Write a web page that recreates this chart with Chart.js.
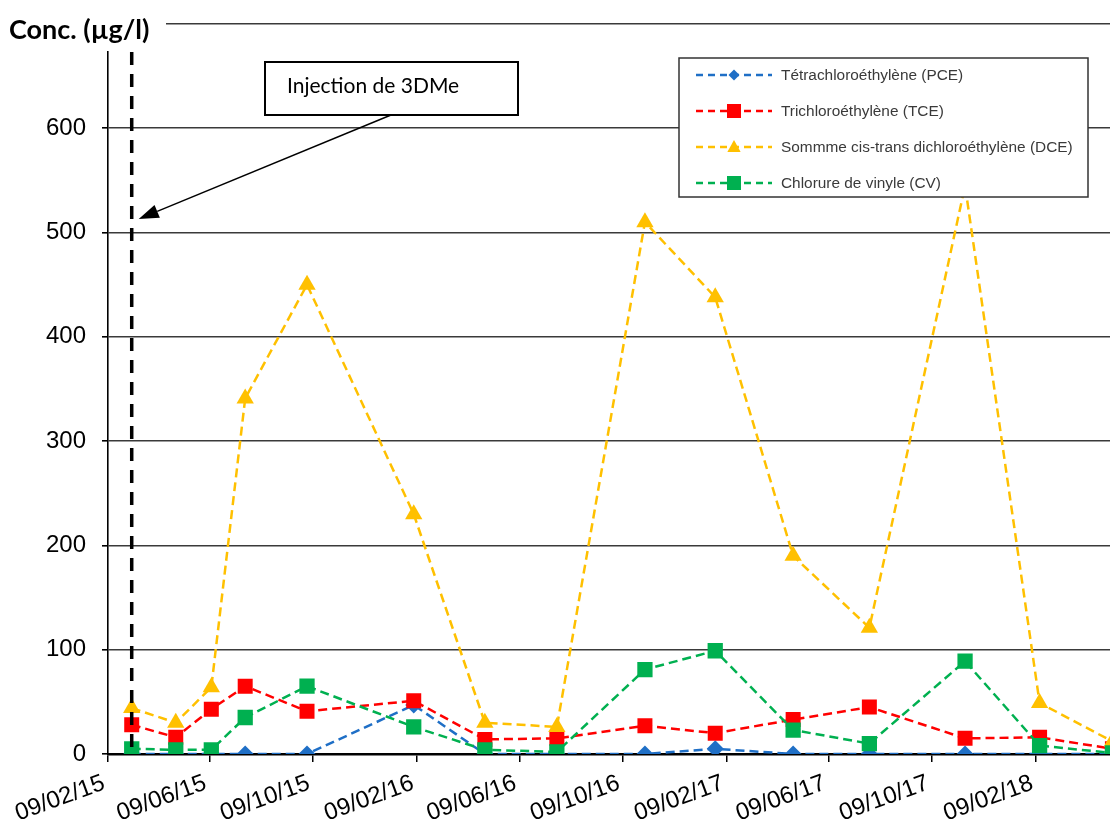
<!DOCTYPE html>
<html>
<head>
<meta charset="utf-8">
<script src="https://cdn.jsdelivr.net/npm/chart.js@4.4.1/dist/chart.umd.min.js"></script>
<style>
  html, body { margin: 0; padding: 0; background: #fff; overflow: hidden; width: 1110px; height: 832px; }
  canvas { display: block; }
</style>
</head>
<body>
<canvas id="chart" width="1130" height="832"></canvas>
<script>
// Sampling dates (ISO) and measured concentrations (µg/l)
const sampleDates = ['2015-03-09', '2015-04-30', '2015-06-11', '2015-07-21', '2015-10-02',
                     '2016-02-05', '2016-04-29', '2016-07-23', '2016-11-04', '2017-01-26',
                     '2017-04-28', '2017-07-27', '2017-11-17', '2018-02-13', '2018-05-10'];
const pceValues = [0, 0, 0, 0, 0, 47, 0, 0, 0, 5, 0, 0, 0, 0, 0];
const tceValues = [28, 16, 43, 65, 41, 51, 14, 15, 27, 20, 33, 45, 15, 16, 5];
const dceValues = [44, 30, 64, 341, 450, 230, 30, 26, 510, 438, 190, 121, 545, 49, 12];
const cvValues  = [5, 4, 4, 35, 65, 26, 4, 2, 81, 99, 23, 10, 89, 8, 1];

const seriesNames = ['Tétrachloroéthylène (PCE)', 'Trichloroéthylène (TCE)',
                     'Sommme cis-trans dichloroéthylène (DCE)', 'Chlorure de vinyle (CV)'];
const seriesColors = ['#1F6FC6', '#FF0000', '#FFC000', '#00B050'];

// Date axis tick labels (dd/mm/yy), one every four months
const xTickLabels = ['09/02/15', '09/06/15', '09/10/15', '09/02/16', '09/06/16',
                     '09/10/16', '09/02/17', '09/06/17', '09/10/17', '09/02/18'];
const yTickValues = [0, 100, 200, 300, 400, 500, 600, 700];

const injectionDate = '2015-03-09';
const injectionText = 'Injection de 3DMe';
const yTitle = 'Conc. (µg/l)';

// ---- date helpers: x values are days since the first tick date ----
function parseTickLabel(s) {
  const [d, m, y] = s.split('/').map(Number);
  return Date.UTC(2000 + y, m - 1, d);
}
const origin = parseTickLabel(xTickLabels[0]);
const DAY = 86400000;
function dayOfIso(iso) { return (Date.parse(iso + 'T00:00:00Z') - origin) / DAY; }
function dayOfTick(s) { return (parseTickLabel(s) - origin) / DAY; }

function toPoints(values) {
  return sampleDates.map((d, i) => ({ x: dayOfIso(d), y: values[i] }));
}

const pointStyles = ['rectRot', 'rect', 'triangle', 'rect'];
const pointRadii = [8.5, 10.6, 10, 10.8];
const seriesValues = [pceValues, tceValues, dceValues, cvValues];
const drawOrder = [3, 2, 1, 0];

const datasets = seriesNames.map((name, i) => ({
  label: name,
  data: toPoints(seriesValues[i]),
  borderColor: seriesColors[i],
  backgroundColor: seriesColors[i],
  pointBackgroundColor: seriesColors[i],
  pointBorderColor: seriesColors[i],
  pointBorderWidth: 0,
  borderWidth: 2.5,
  borderDash: [9, 5],
  pointStyle: pointStyles[i],
  pointRadius: pointRadii[i],
  tension: 0,
  order: drawOrder[i]
}));

// Markers for the hand-drawn legend
function drawMarker(ctx, style, x, y, r, color) {
  ctx.save();
  ctx.fillStyle = color;
  ctx.beginPath();
  if (style === 'rectRot') {
    ctx.moveTo(x, y - r); ctx.lineTo(x + r, y); ctx.lineTo(x, y + r); ctx.lineTo(x - r, y);
  } else if (style === 'rect') {
    ctx.rect(x - r, y - r, 2 * r, 2 * r);
  } else if (style === 'triangle') {
    ctx.moveTo(x, y - r); ctx.lineTo(x + r * 0.95, y + r * 0.7); ctx.lineTo(x - r * 0.95, y + r * 0.7);
  }
  ctx.closePath();
  ctx.fill();
  ctx.restore();
}

const decorations = {
  id: 'decorations',
  afterDatasetsDraw(chart) {
    const ctx = chart.ctx;
    const xs = chart.scales.x, ys = chart.scales.y;

    // vertical dashed injection marker
    const ix = xs.getPixelForValue(dayOfIso(injectionDate));
    ctx.save();
    ctx.strokeStyle = '#000';
    ctx.lineWidth = 3.5;
    ctx.setLineDash([13, 9]);
    ctx.beginPath();
    ctx.moveTo(ix, 52);
    ctx.lineTo(ix, ys.getPixelForValue(0));
    ctx.stroke();
    ctx.restore();

    // annotation box with arrow pointing at the marker
    ctx.save();
    ctx.fillStyle = '#fff';
    ctx.fillRect(265, 62, 253, 53);
    ctx.strokeStyle = '#000';
    ctx.lineWidth = 2;
    ctx.strokeRect(265, 62, 253, 53);
    ctx.fillStyle = '#000';
    ctx.font = '21px Lato, "Open Sans", sans-serif';
    ctx.textBaseline = 'middle';
    ctx.fillText(injectionText, 287, 86);

    const ax0 = 391, ay0 = 115, ax1 = ix + 7, ay1 = 219;
    const ang = Math.atan2(ay1 - ay0, ax1 - ax0);
    const headLen = 20, headW = 7;
    const bx = ax1 - headLen * Math.cos(ang), by = ay1 - headLen * Math.sin(ang);
    ctx.strokeStyle = '#000';
    ctx.lineWidth = 1.5;
    ctx.beginPath();
    ctx.moveTo(ax0, ay0);
    ctx.lineTo(bx, by);
    ctx.stroke();
    ctx.beginPath();
    ctx.moveTo(ax1, ay1);
    ctx.lineTo(bx + headW * Math.sin(ang), by - headW * Math.cos(ang));
    ctx.lineTo(bx - headW * Math.sin(ang), by + headW * Math.cos(ang));
    ctx.closePath();
    ctx.fill();
    ctx.restore();

    // axis title on a white patch at the top-left corner
    ctx.save();
    ctx.fillStyle = '#fff';
    ctx.fillRect(0, 0, 166, 51);
    ctx.fillStyle = '#000';
    ctx.font = 'bold 27px Lato, "Open Sans", sans-serif';
    ctx.textBaseline = 'middle';
    ctx.fillText(yTitle, 9, 30);
    ctx.restore();

    // legend
    const lx = 679, ly = 58, lw = 409, lh = 139;
    ctx.save();
    ctx.fillStyle = '#fff';
    ctx.fillRect(lx, ly, lw, lh);
    ctx.strokeStyle = '#333';
    ctx.lineWidth = 1.5;
    ctx.strokeRect(lx, ly, lw, lh);
    const rowY = [75, 111, 147, 183];
    const legendR = [5.5, 7, 7, 7];
    const legendStyle = ['rectRot', 'rect', 'triangle', 'rect'];
    seriesNames.forEach((name, i) => {
      const y = rowY[i];
      ctx.strokeStyle = seriesColors[i];
      ctx.lineWidth = 2.5;
      ctx.setLineDash([7, 5]);
      ctx.beginPath();
      ctx.moveTo(696, y);
      ctx.lineTo(772, y);
      ctx.stroke();
      ctx.setLineDash([]);
      drawMarker(ctx, legendStyle[i], 734, y, legendR[i], seriesColors[i]);
      ctx.fillStyle = '#3a3a3a';
      ctx.font = '15.4px "Liberation Sans", Arial, sans-serif';
      ctx.textBaseline = 'middle';
      ctx.fillText(name, 781, y + 1);
    });
    ctx.restore();
  }
};

new Chart(document.getElementById('chart'), {
  type: 'line',
  data: { datasets },
  options: {
    responsive: false,
    animation: false,
    events: [],
    layout: { padding: { top: 24, left: 0, right: 0, bottom: 0 } },
    plugins: { legend: { display: false }, tooltip: { enabled: false }, title: { display: false } },
    scales: {
      x: {
        type: 'linear',
        min: 0,
        max: 1194,
        afterBuildTicks(scale) {
          scale.ticks = xTickLabels.map(l => ({ value: dayOfTick(l) }));
        },
        afterFit(scale) {
          scale.height = 78;
          scale.paddingLeft = 0;
          scale.paddingRight = 0;
        },
        ticks: {
          autoSkip: false,
          minRotation: 20,
          maxRotation: 20,
          padding: 7,
          labelOffset: -4,
          color: '#000',
          font: { family: '"Liberation Sans", Arial, sans-serif', size: 24 },
          callback(value) {
            const idx = xTickLabels.findIndex(l => Math.abs(dayOfTick(l) - value) < 0.01);
            return idx >= 0 ? xTickLabels[idx] : '';
          }
        },
        grid: { display: true, drawOnChartArea: false, drawTicks: true, tickLength: 8, color: '#000', lineWidth: 1.5 },
        border: { display: true, color: '#000', width: 2.5 }
      },
      y: {
        min: 0,
        max: 700,
        afterBuildTicks(scale) {
          scale.ticks = yTickValues.map(v => ({ value: v }));
        },
        afterFit(scale) {
          scale.width = 108;
          scale.paddingTop = 0;
          scale.paddingBottom = 0;
        },
        ticks: {
          padding: 16,
          color: '#000',
          font: { family: '"Liberation Sans", Arial, sans-serif', size: 24 }
        },
        grid: { color: '#3a3a3a', lineWidth: 1.6, tickLength: 6, tickColor: '#000' },
        border: { display: true, color: '#000', width: 1.6 }
      }
    }
  },
  plugins: [decorations]
});
</script>
</body>
</html>
